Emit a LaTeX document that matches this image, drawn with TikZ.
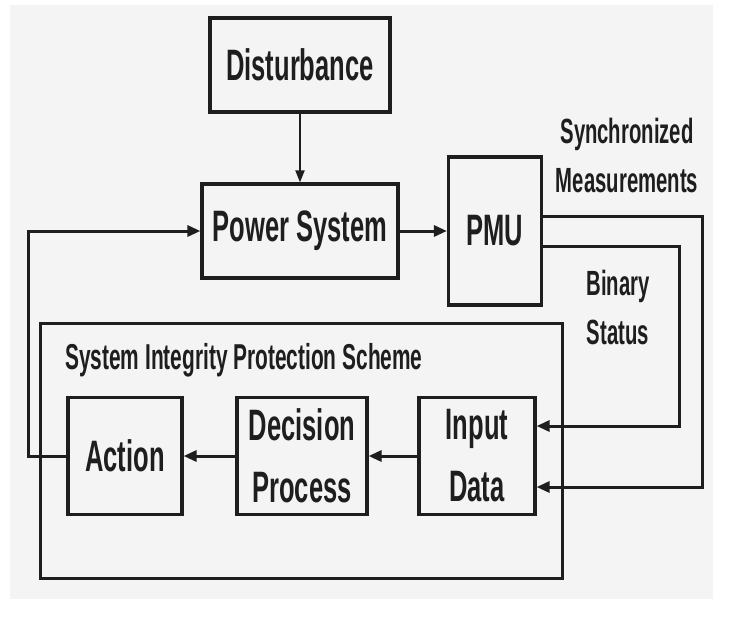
\documentclass[tikz,border=0pt]{standalone}
\usepackage{fontspec}
\setmainfont{Liberation Sans}[FakeStretch=0.58]
\usetikzlibrary{arrows.meta}
\definecolor{paper}{HTML}{F4F4F4}
\definecolor{ink}{HTML}{1E1E1E}
\tikzset{
  blk/.style={draw=ink, line width=3.2pt, fill=paper, minimum width=#1, inner sep=0pt,
              font=\bfseries\fontsize{44}{62}\selectfont, align=center, text=ink},
  sidelabel/.style={font=\bfseries\fontsize{35}{49}\selectfont, align=center, text=ink, inner sep=0pt},
  wire/.style={draw=ink, line width=3pt},
  flow/.style={wire, -{Triangle[length=13pt,width=11pt]}},
  thinflow/.style={draw=ink, line width=2pt, -{Triangle[length=12pt,width=9pt]}}
}
\begin{document}
\begin{tikzpicture}[x=1pt,y=-1pt]
  % page and panel
  \useasboundingbox[fill=white] (0,0) rectangle (730,616);
  \fill[paper] (10,5) rectangle (713,599);

  % protection scheme enclosure
  \draw[wire, line width=3pt] (40,323) rectangle (562,578);
  \node[anchor=west, font=\bfseries\fontsize{36}{40}\selectfont, text=ink, inner sep=0pt]
    (sipslabel) at (65,360) {System Integrity Protection Scheme};

  % blocks
  \node[blk=180pt, minimum height=94pt] (dist) at (300,65) {Disturbance};
  \node[blk=196pt, minimum height=94pt] (power) at (300,231) {Power System};
  \node[blk=93pt, minimum height=148pt] (pmu) at (495,231) {PMU};
  \node[blk=114pt, minimum height=117pt] (action) at (125,456) {Action};
  \node[blk=130pt, minimum height=117pt] (decision) at (302,456) {Decision\\Process};
  \node[blk=116pt, minimum height=117pt] (input) at (477,456) {Input\\Data};

  % side labels
  \node[sidelabel] (synclabel) at (627,155) {Synchronized\\Measurements};
  \node[sidelabel] (binlabel) at (618,307) {Binary\\Status};

  % routing points
  \coordinate (syncA) at (702,216);
  \coordinate (syncB) at (702,487);
  \coordinate (binA) at (679,246);
  \coordinate (binB) at (679,426);
  \coordinate (loopA) at (28,456);
  \coordinate (loopB) at (28,231);

  % connectors
  \draw[thinflow] (dist.south) -- (power.north);
  \draw[flow] (power.east) -- (pmu.west);
  \draw[flow] (pmu.east |- syncA) -- (syncA) -- (syncB) -- (input.east |- syncB);
  \draw[flow] (pmu.east |- binA) -- (binA) -- (binB) -- (input.east |- binB);
  \draw[flow] (input.west) -- (decision.east);
  \draw[flow] (decision.west) -- (action.east);
  \draw[flow] (action.west) -- (loopA) -- (loopB) -- (power.west);
\end{tikzpicture}
\end{document}
